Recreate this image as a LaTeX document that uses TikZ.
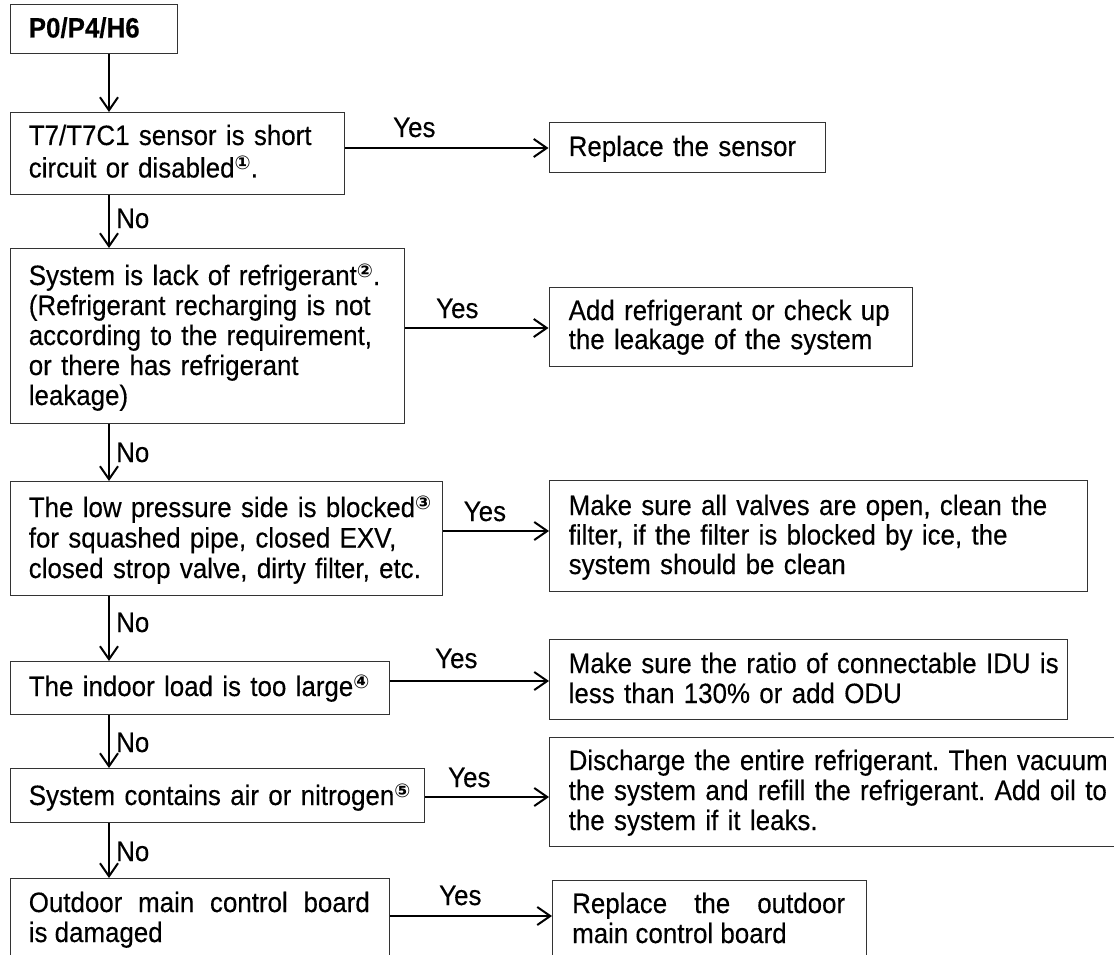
\documentclass[tikz,border=0pt]{standalone}
\usepackage{fontspec}
\setmainfont{Liberation Sans}[FakeStretch=0.925,FakeBold=0.3]
\newfontfamily\symfont{DejaVu Sans}
\usetikzlibrary{arrows.meta}
\newcommand{\cnum}[1]{\raisebox{8pt}{\symfont\bfseries\fontsize{19}{19}\selectfont #1}}
\frenchspacing
\begin{document}
\frenchspacing
\begin{tikzpicture}[x=1pt,y=-1pt,
  box/.style={draw=black!80, line width=1.2pt, inner sep=0pt, anchor=north west, rectangle},
  txt/.style={inner sep=0pt, anchor=base west, align=left, text width=560pt},
  jtxt/.style={inner sep=0pt, anchor=base west, align=justify},
  arr/.style={line width=2pt, -{Straight Barb[length=13pt,width=18pt,line width=2pt]}},
  lbl/.style={inner sep=0pt, anchor=base west},
  font=\fontsize{28}{30}\selectfont]
\useasboundingbox (0,0) rectangle (1114,955);
\clip (0,0) rectangle (1114,955);
% boxes (left column)
\node[box, minimum width=167.4pt, minimum height=49pt]  (top) at (9.6,4) {};
\node[box, minimum width=334pt,   minimum height=82pt]  (b1)  at (9.6,112) {};
\node[box, minimum width=394pt,   minimum height=175pt] (b2)  at (9.6,248) {};
\node[box, minimum width=432.4pt, minimum height=114pt] (b3)  at (9.6,481) {};
\node[box, minimum width=379.4pt, minimum height=53pt]  (b4)  at (9.6,661) {};
\node[box, minimum width=414.4pt, minimum height=54pt]  (b5)  at (9.6,768) {};
\node[box, minimum width=379.4pt, minimum height=100pt] (b6)  at (9.6,878) {};
% boxes (right column)
\node[box, minimum width=276.5pt, minimum height=50pt]  (r1) at (548.5,122) {};
\node[box, minimum width=363.5pt, minimum height=79pt]  (r2) at (548.5,287) {};
\node[box, minimum width=538pt,   minimum height=111pt] (r3) at (549,480) {};
\node[box, minimum width=518pt,   minimum height=80pt]  (r4) at (549,639) {};
\node[box, minimum width=600pt,   minimum height=109pt] (r5) at (549,737) {};
\node[box, minimum width=314pt,   minimum height=100pt] (r6) at (552,880) {};
% texts
\node[lbl, font=\fontsize{28}{30}\selectfont\bfseries] (t0) at (28.6,37.5) {P0/P4/H6};
\node[txt, font=\fontsize{28}{32.5}\selectfont] (t1) at (28.6,145) {T7/T7C1 sensor is short\\circuit or disabled\cnum{①}.};
\node[txt] (t2) at (28.6,285) {System is lack of refrigerant\cnum{②}.\\(Refrigerant recharging is not\\according to the requirement,\\or there has refrigerant\\leakage)};
\node[txt, font=\fontsize{28}{30.5}\selectfont] (t3) at (28.6,517) {The low pressure side is blocked\cnum{③}\\for squashed pipe, closed EXV,\\closed strop valve, dirty filter, etc.};
\node[txt] (t4) at (28.6,696) {The indoor load is too large\cnum{④}};
\node[txt] (t5) at (28.6,805) {System contains air or nitrogen\cnum{⑤}};
\node[jtxt, text width=341pt] (t6) at (28.6,912) {Outdoor main control board\linebreak is damaged};
\node[txt] (rt1) at (568.5,156) {Replace the sensor};
\node[txt, font=\fontsize{28}{29}\selectfont] (rt2) at (568.5,320) {Add refrigerant or check up\\the leakage of the system};
\node[txt, font=\fontsize{28}{29.5}\selectfont] (rt3) at (568.5,515) {Make sure all valves are open, clean the\\filter, if the filter is blocked by ice, the\\system should be clean};
\node[txt] (rt4) at (568.5,673) {Make sure the ratio of connectable IDU is\\less than 130\% or add ODU};
\node[txt] (rt5) at (568.5,770) {Discharge the entire refrigerant. Then vacuum\\the system and refill the refrigerant. Add oil to\\the system if it leaks.};
\node[jtxt, text width=273pt] (rt6) at (572,913) {Replace the outdoor\linebreak main control board};
% vertical connectors
\draw[arr] ([xshift=99.4pt]top.south west) -- ([xshift=99.4pt]b1.north west);
\draw[arr] ([xshift=99.4pt]b1.south west) -- ([xshift=99.4pt]b2.north west);
\draw[arr] ([xshift=99.4pt]b2.south west) -- ([xshift=99.4pt]b3.north west);
\draw[arr] ([xshift=99.4pt]b3.south west) -- ([xshift=99.4pt]b4.north west);
\draw[arr] ([xshift=99.4pt]b4.south west) -- ([xshift=99.4pt]b5.north west);
\draw[arr] ([xshift=99.4pt]b5.south west) -- ([xshift=99.4pt]b6.north west);
% horizontal connectors
\coordinate (h1) at (0,148);
\coordinate (h2) at (0,328);
\coordinate (h3) at (0,531);
\coordinate (h4) at (0,681);
\coordinate (h5) at (0,797);
\coordinate (h6) at (0,916);
\draw[arr] (b1.east |- h1) -- (r1.west |- h1);
\draw[arr] (b2.east |- h2) -- (r2.west |- h2);
\draw[arr] (b3.east |- h3) -- (r3.west |- h3);
\draw[arr] (b4.east |- h4) -- (r4.west |- h4);
\draw[arr] (b5.east |- h5) -- (r5.west |- h5);
\draw[arr] (b6.east |- h6) -- (r6.west |- h6);
% labels
\node[lbl] (y1) at (393,137) {Yes};
\node[lbl] (y2) at (436,318) {Yes};
\node[lbl] (y3) at (463.6,521) {Yes};
\node[lbl] (y4) at (435,668) {Yes};
\node[lbl] (y5) at (448,787) {Yes};
\node[lbl] (y6) at (439,905) {Yes};
\node[lbl] (n1) at (116,228) {No};
\node[lbl] (n2) at (116,462) {No};
\node[lbl] (n3) at (116,632) {No};
\node[lbl] (n4) at (116,752) {No};
\node[lbl] (n5) at (116,861) {No};
\end{tikzpicture}
\end{document}
